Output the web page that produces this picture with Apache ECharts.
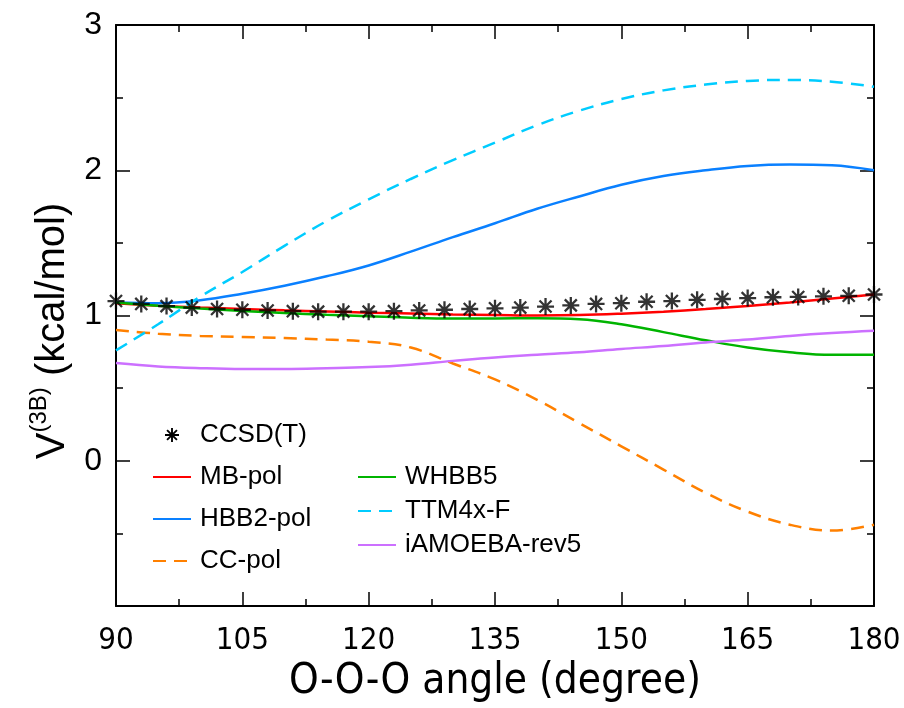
<!DOCTYPE html>
<html>
<head>
<meta charset="utf-8">
<script src="https://cdn.jsdelivr.net/npm/echarts@6/dist/echarts.min.js"></script>
<style>html,body{margin:0;padding:0;background:#fff}#c{width:904px;height:708px}</style>
</head>
<body>
<div id="c"></div>
<script>
// ---- data ----
const ccsdAngles = [90,93,96,99,102,105,108,111,114,117,120,123,126,129,132,135,138,141,144,147,150,153,156,159,162,165,168,171,174,177,180];
const ccsdValues = [1.10,1.08,1.065,1.055,1.045,1.04,1.035,1.03,1.027,1.027,1.027,1.03,1.035,1.04,1.045,1.05,1.055,1.062,1.07,1.08,1.085,1.095,1.10,1.108,1.114,1.12,1.126,1.128,1.132,1.136,1.145];
const angles = [90,95,100,105,110,115,120,125,130,135,140,145,150,155,160,165,170,175,180];
const mbpol   = [1.085,1.068,1.055,1.045,1.036,1.028,1.02,1.014,1.008,1.004,1.0,1.003,1.013,1.027,1.045,1.066,1.09,1.117,1.145];
const hbb2pol = [1.09,1.085,1.105,1.15,1.205,1.27,1.345,1.44,1.54,1.635,1.735,1.82,1.90,1.96,2.0,2.03,2.04,2.035,2.0];
const ccpol   = [0.90,0.875,0.86,0.853,0.845,0.835,0.82,0.78,0.67,0.56,0.42,0.26,0.10,-0.06,-0.22,-0.35,-0.44,-0.48,-0.44];
const whbb5   = [1.09,1.068,1.048,1.032,1.018,1.005,0.995,0.985,0.98,0.98,0.982,0.975,0.94,0.886,0.83,0.78,0.747,0.73,0.73];
const ttm4xf  = [0.76,0.94,1.13,1.30,1.48,1.65,1.80,1.94,2.07,2.19,2.31,2.41,2.49,2.55,2.59,2.615,2.622,2.61,2.575];
const iamoeba = [0.673,0.65,0.638,0.632,0.632,0.637,0.645,0.662,0.688,0.712,0.73,0.747,0.77,0.79,0.815,0.835,0.86,0.88,0.895];
const xTicks = [90,105,120,135,150,165,180];
const yTicks = [0,1,2,3];

const pair = (xs, ys) => xs.map((x, i) => [x, ys[i]]);

// asterisk symbol path (8 arms)
function asteriskPath() {
  const r = 10, w = 1.35;
  let d = '';
  for (let k = 0; k < 4; k++) {
    const a = k * Math.PI / 4;
    const c = Math.cos(a), s = Math.sin(a);
    const pts = [[-r,-w],[r,-w],[r,w],[-r,w]].map(([x,y]) => [x*c - y*s, x*s + y*c]);
    d += 'M' + pts.map(p => p[0].toFixed(3) + ' ' + p[1].toFixed(3)).join(' L') + ' Z ';
  }
  return 'path://' + d;
}
const star = asteriskPath();

const font = 'Liberation Sans, Arial, Helvetica, sans-serif';
const narrow = "'Liberation Sans Narrow', 'Arial Narrow', 'DejaVu Sans Condensed', 'Liberation Sans', sans-serif";

function lineSeries(name, data, color, dashed) {
  return {
    name, type: 'line', data: pair(angles, data), smooth: 0.4, showSymbol: false, symbol: 'none',
    lineStyle: { color, width: 2.5, type: dashed ? [13, 8] : 'solid' },
    itemStyle: { color }, z: 3
  };
}

const tickCommon = {
  axisLine: { show: true, onZero: false, lineStyle: { color: '#000', width: 2 } },
  axisTick: { show: true, inside: true, length: 14, lineStyle: { color: '#000', width: 1.5 } },
  minorTick: { show: true, splitNumber: 2, length: 7, lineStyle: { color: '#000', width: 1.5 } },
  splitLine: { show: false }
};

const chart = echarts.init(document.getElementById('c'));
chart.setOption({
  animation: false,
  backgroundColor: '#fff',
  grid: { left: 116, right: 30, top: 25, bottom: 98, containLabel: false },
  xAxis: [Object.assign({
    type: 'value', min: 90, max: 180, interval: 15, position: 'bottom',
    axisLabel: { color: '#000', fontSize: 31, fontFamily: narrow, margin: 19,
      formatter: v => xTicks.includes(v) ? String(v) : '' },
    name: 'O-O-O angle (degree)', nameLocation: 'middle', nameGap: 50,
    nameTextStyle: { color: '#000', fontSize: 42, fontFamily: narrow }
  }, tickCommon), Object.assign({
    type: 'value', min: 90, max: 180, interval: 15, position: 'top',
    axisLabel: { show: false }
  }, tickCommon)],
  yAxis: [Object.assign({
    type: 'value', min: -1, max: 3, interval: 1, position: 'left',
    axisLabel: { color: '#000', fontSize: 32, fontFamily: font, margin: 14,
      formatter: v => yTicks.includes(v) ? String(v) : '' }
  }, tickCommon), Object.assign({
    type: 'value', min: -1, max: 3, interval: 1, position: 'right',
    axisLabel: { show: false }
  }, tickCommon)],
  legend: [{
    orient: 'vertical', left: 147, top: 417, itemWidth: 38, itemHeight: 14, itemGap: 16,
    itemStyle: { opacity: 0 },
    textStyle: { color: '#000', fontSize: 26, fontFamily: font, padding: [0, 0, 0, 4] },
    data: [{ name: 'CCSD(T)', icon: star, itemStyle: { opacity: 1, color: '#000' } }, 'MB-pol', 'HBB2-pol', 'CC-pol']
  }, {
    orient: 'vertical', left: 352, top: 459, itemWidth: 38, itemHeight: 14, itemGap: 8,
    itemStyle: { opacity: 0 },
    textStyle: { color: '#000', fontSize: 26, fontFamily: font, padding: [0, 0, 0, 4] },
    data: ['WHBB5', 'TTM4x-F', 'iAMOEBA-rev5']
  }],
  graphic: [{
    type: 'text', x: 50, y: 331, rotation: Math.PI / 2,
    style: {
      text: '{v|V}{s|(3B)}{v| (kcal/mol)}',
      textAlign: 'center', textVerticalAlign: 'middle',
      rich: {
        v: { fontSize: 40, fontFamily: font, fill: '#000', color: '#000', lineHeight: 46, verticalAlign: 'bottom' },
        s: { fontSize: 24, fontFamily: font, fill: '#000', color: '#000', verticalAlign: 'top' }
      }
    }
  }],
  series: [
    lineSeries('MB-pol', mbpol, '#ff0000', false),
    lineSeries('HBB2-pol', hbb2pol, '#0a80ff', false),
    lineSeries('CC-pol', ccpol, '#ff8000', true),
    lineSeries('WHBB5', whbb5, '#00b400', false),
    lineSeries('TTM4x-F', ttm4xf, '#00ccff', true),
    lineSeries('iAMOEBA-rev5', iamoeba, '#cc70ff', false),
    {
      name: 'CCSD(T)', type: 'scatter', data: pair(ccsdAngles, ccsdValues),
      symbol: star, symbolSize: 17, itemStyle: { color: '#000' }, z: 5
    }
  ]
});
</script>
</body>
</html>
